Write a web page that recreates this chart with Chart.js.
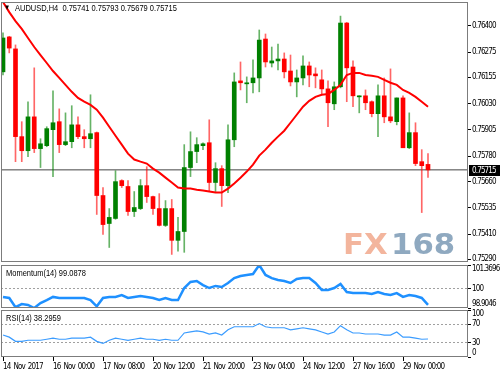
<!DOCTYPE html>
<html>
<head>
<meta charset="utf-8">
<script src="https://cdn.jsdelivr.net/npm/chart.js@4.4.1/dist/chart.umd.min.js"></script>
<style>
  html, body { margin: 0; padding: 0; background: #fff; }
  #wrap { position: relative; width: 500px; height: 375px; overflow: hidden; background: #fff; }
  canvas { position: absolute; left: 0; }
  .txt { position: absolute; font-family: 'Liberation Sans', Arial, sans-serif; font-size: 9.6px; line-height: 10px;
         color: #000; white-space: pre; transform-origin: 0 0; transform: scaleX(0.78); }
  .wm { position: absolute; font-family: 'DejaVu Sans', sans-serif; font-weight: bold; font-size: 29px; line-height: 29px;
        white-space: pre; transform-origin: 0 0; transform: scaleX(1.06); }
</style>
</head>
<body>
<div id="wrap">
  <canvas id="main" width="500" height="264" style="top:0"></canvas>
  <canvas id="mom" width="500" height="45" style="top:264px"></canvas>
  <canvas id="rsi" width="500" height="66" style="top:309px"></canvas>
  <div class="wm" style="left:343px;top:230px;color:#f3b59d">FX</div>
  <div class="wm" style="left:391px;top:230px;color:#8fa9c0">168</div>
  <div class="txt" style="left:4px;top:3px;font-size:8px">▼</div>
  <div class="txt" style="left:15px;top:3px">AUDUSD,H4  0.75741 0.75793 0.75679 0.75715</div>
  <div class="txt" style="left:6px;top:268px">Momentum(14) 99.0878</div>
  <div class="txt" style="left:6px;top:313px">RSI(14) 38.2959</div>
</div>
<script>
// AUDUSD H4 candles, 14 Nov - 29 Nov 2017
const opens = [0.76181, 0.76347, 0.76290, 0.75873, 0.75806, 0.75967, 0.75816, 0.75830, 0.75906, 0.75944,
  0.75835, 0.75849, 0.75929, 0.75873, 0.75863, 0.75892, 0.75593, 0.75460, 0.75484, 0.75664,
  0.75636, 0.75517, 0.75531, 0.75640, 0.75588, 0.75531, 0.75451, 0.75531, 0.75380, 0.75422,
  0.75726, 0.75802, 0.75830, 0.75844, 0.75655, 0.75721, 0.75640, 0.75858, 0.76138, 0.76124,
  0.76129, 0.76152, 0.76337, 0.76223, 0.76233, 0.76242, 0.76185, 0.76133, 0.76152, 0.76209,
  0.76171, 0.76143, 0.76100, 0.76029, 0.76110, 0.76413, 0.76204, 0.76062, 0.76067, 0.76039,
  0.75982, 0.76067, 0.75967, 0.75944, 0.76057, 0.75820, 0.75892, 0.75754, 0.75741];
const highs = [0.76366, 0.76350, 0.76309, 0.75944, 0.76039, 0.76200, 0.75863, 0.75920, 0.76091, 0.76005,
  0.75986, 0.76020, 0.75967, 0.75906, 0.76072, 0.75895, 0.75631, 0.75531, 0.75711, 0.75668,
  0.75664, 0.75612, 0.75669, 0.75730, 0.75590, 0.75602, 0.75569, 0.75574, 0.75489, 0.75835,
  0.75896, 0.75868, 0.75844, 0.75953, 0.75749, 0.75735, 0.75929, 0.76176, 0.76228, 0.76157,
  0.76238, 0.76380, 0.76361, 0.76299, 0.76313, 0.76271, 0.76261, 0.76190, 0.76257, 0.76228,
  0.76200, 0.76190, 0.76138, 0.76133, 0.76446, 0.76416, 0.76233, 0.76067, 0.76095, 0.76043,
  0.76119, 0.76152, 0.76195, 0.76057, 0.76067, 0.75986, 0.75939, 0.75811, 0.75793];
const lows = [0.76166, 0.76271, 0.75754, 0.75754, 0.75778, 0.75797, 0.75726, 0.75825, 0.75683, 0.75797,
  0.75830, 0.75820, 0.75863, 0.75820, 0.75820, 0.75503, 0.75408, 0.75346, 0.75480, 0.75631,
  0.75498, 0.75493, 0.75526, 0.75560, 0.75503, 0.75448, 0.75446, 0.75313, 0.75328, 0.75323,
  0.75683, 0.75749, 0.75811, 0.75612, 0.75612, 0.75541, 0.75607, 0.75825, 0.76095, 0.76034,
  0.76081, 0.76086, 0.76204, 0.76204, 0.76190, 0.76152, 0.76114, 0.76062, 0.76119, 0.76110,
  0.76105, 0.76072, 0.75920, 0.76001, 0.76105, 0.76039, 0.76015, 0.75986, 0.76001, 0.75967,
  0.75873, 0.75939, 0.75939, 0.75929, 0.75820, 0.75816, 0.75735, 0.75512, 0.75679];
const closes = [0.76342, 0.76294, 0.75873, 0.75806, 0.75967, 0.75816, 0.75839, 0.75911, 0.75939, 0.75835,
  0.75849, 0.75929, 0.75873, 0.75863, 0.75887, 0.75593, 0.75455, 0.75489, 0.75659, 0.75640,
  0.75517, 0.75536, 0.75640, 0.75588, 0.75531, 0.75451, 0.75531, 0.75380, 0.75422, 0.75726,
  0.75802, 0.75835, 0.75839, 0.75655, 0.75721, 0.75640, 0.75858, 0.76133, 0.76129, 0.76129,
  0.76152, 0.76332, 0.76228, 0.76233, 0.76242, 0.76181, 0.76133, 0.76152, 0.76209, 0.76166,
  0.76162, 0.76100, 0.76034, 0.76110, 0.76413, 0.76200, 0.76067, 0.76067, 0.76034, 0.75982,
  0.76067, 0.75967, 0.75948, 0.76057, 0.75820, 0.75892, 0.75745, 0.75735, 0.75715];
// red moving average
const movingAvg = [0.76513, 0.76465, 0.76422, 0.76385, 0.76342, 0.76299, 0.76261, 0.76223, 0.76185, 0.76152,
  0.76119, 0.76086, 0.76057, 0.76039, 0.76024, 0.76001, 0.75963, 0.75920, 0.75877, 0.75835,
  0.75792, 0.75764, 0.75754, 0.75745, 0.75721, 0.75702, 0.75678, 0.75655, 0.75631, 0.75626,
  0.75626, 0.75621, 0.75617, 0.75612, 0.75607, 0.75607, 0.75626, 0.75650, 0.75678, 0.75707,
  0.75740, 0.75783, 0.75811, 0.75844, 0.75873, 0.75901, 0.75939, 0.75977, 0.76015, 0.76043,
  0.76062, 0.76072, 0.76076, 0.76095, 0.76119, 0.76166, 0.76176, 0.76176, 0.76166, 0.76162,
  0.76157, 0.76143, 0.76129, 0.76119, 0.76095, 0.76081, 0.76062, 0.76039, 0.76015];
const momentum = [99.54, 99.48, 98.95, 99.13, 99.08, 98.9046, 99.19, 99.36, 99.54, 99.48,
  99.48, 99.48, 99.48, 99.48, 99.36, 99.00, 99.48, 99.54, 99.54, 99.65,
  99.48, 99.54, 99.59, 99.54, 99.48, 99.36, 99.48, 99.36, 99.36, 100.05,
  100.40, 100.45, 100.22, 100.05, 100.17, 100.11, 100.34, 100.62, 100.74, 100.80,
  100.85, 101.3696, 100.80, 100.62, 100.51, 100.45, 100.34, 100.57, 100.62, 100.62,
  100.34, 99.94, 99.94, 100.05, 100.28, 99.82, 99.76, 99.76, 99.76, 99.71,
  99.82, 99.71, 99.65, 99.76, 99.54, 99.65, 99.59, 99.48, 99.0878];
const rsi = [46.7, 42.2, 33.3, 33.3, 35.6, 35.6, 35.6, 37.8, 40.0, 37.8,
  37.8, 40.0, 40.0, 40.0, 42.2, 33.3, 28.9, 35.6, 40.0, 37.8,
  35.6, 37.8, 40.0, 37.8, 37.8, 35.6, 37.8, 35.6, 35.6, 51.1,
  53.3, 55.6, 53.3, 48.9, 51.1, 46.7, 57.8, 64.4, 64.4, 64.4,
  64.4, 71.1, 64.4, 62.2, 62.2, 62.2, 57.8, 60.0, 62.2, 60.0,
  57.8, 53.3, 48.9, 53.3, 66.7, 57.8, 51.1, 51.1, 48.9, 48.9,
  48.9, 46.7, 46.7, 53.3, 42.2, 42.2, 40.0, 37.8, 38.2959];

const priceTicks = [0.76400, 0.76275, 0.76155, 0.76030, 0.75905, 0.75780, 0.75660, 0.75535, 0.75410, 0.75290];
const momTicks = [98.9046, 100, 101.3696];
const momLevels = [100];
const rsiTicks = [0, 30, 70, 100];
const rsiLevels = [30, 70];
const dateTicks = [0, 8, 16, 24, 32, 40, 48, 56, 64];
const dateLabels = ['14 Nov 2017', '16 Nov 00:00', '17 Nov 08:00', '20 Nov 12:00', '21 Nov 20:00',
  '23 Nov 04:00', '24 Nov 12:00', '27 Nov 16:00', '29 Nov 00:00'];

const X_MIN = -0.32, X_MAX = 74.4;
const lastClose = closes[closes.length - 1];
const tickFont = { family: "'DejaVu Sans Condensed','DejaVu Sans',sans-serif", size: 8, lineHeight: 1 };
const TEXT_SPACING = '-0.85px';
const WORD_SPACING = '1.5px';

const idx = closes.map((c, i) => i);
const up = closes.map((c, i) => c >= opens[i]);

function narrowText(ctx) {
    ctx.letterSpacing = TEXT_SPACING;
    ctx.wordSpacing = WORD_SPACING;
}

// frame round each pane, tighter letter spacing for the axis text
const framePlugin = {
    id: 'frame',
    beforeUpdate(chart) { narrowText(chart.ctx); },
    beforeDraw(chart) { narrowText(chart.ctx); },
    afterDraw(chart) {
        const { ctx, chartArea: a } = chart;
        ctx.save();
        ctx.strokeStyle = '#7c7c7c';
        ctx.lineWidth = 1;
        ctx.strokeRect(a.left + 0.5, a.top + 0.5, a.right - a.left - 1, a.bottom - a.top - 1);
        ctx.restore();
    }
};

// black bid tag on the price axis
const bidTagPlugin = {
    id: 'bidTag',
    afterDraw(chart) {
        const { ctx, chartArea: a } = chart;
        const y = Math.round(chart.scales.y.getPixelForValue(lastClose));
        ctx.save();
        ctx.fillStyle = '#000';
        ctx.fillRect(a.right + 1, y - 5, chart.width - a.right - 1, 11);
        ctx.fillStyle = '#fff';
        ctx.font = tickFont.size + 'px ' + tickFont.family;
        ctx.textBaseline = 'middle';
        ctx.fillText(lastClose.toFixed(5), a.right + 4, y + 0.5);
        ctx.restore();
    }
};

function xAxis(show) {
    return {
        type: 'linear', min: X_MIN, max: X_MAX, display: show, position: 'bottom',
        offset: false,
        afterBuildTicks: s => { s.ticks = dateTicks.map(v => ({ value: v })); },
        afterFit: s => { s.height = show ? 18 : 0; s.paddingLeft = 0; s.paddingRight = 0; },
        ticks: { callback: (v, k) => dateLabels[k], align: 'start', autoSkip: false, maxRotation: 0, minRotation: 0,
                 padding: 2, color: '#000', font: tickFont },
        grid: { offset: false, drawOnChartArea: false, drawTicks: true, tickLength: 4, tickColor: '#000' },
        border: { display: false }
    };
}

function yAxis(min, max, ticks, fmt, levels) {
    return {
        position: 'right', min: min, max: max,
        afterBuildTicks: s => { s.ticks = ticks.map(v => ({ value: v })); },
        afterFit: s => { s.width = 32; s.paddingTop = 0; s.paddingBottom = 0; },
        ticks: { callback: fmt, color: '#000', font: tickFont, padding: 1, autoSkip: false },
        grid: {
            drawOnChartArea: true, drawTicks: true, tickLength: 3, tickColor: '#000',
            color: c => (c.tick && levels.includes(c.tick.value)) ? '#a0a0a0' : 'rgba(0,0,0,0)'
        },
        border: { display: false, dash: [2, 2] }
    };
}

const baseOpts = {
    responsive: false,
    animation: false,
    events: [],
    plugins: { legend: { display: false }, tooltip: { enabled: false } }
};

// main price pane
const mainChart = new Chart(document.getElementById('main'), {
    type: 'bar',
    data: {
        datasets: [
            {
                type: 'line', order: 0,
                data: idx.map(i => ({ x: i, y: movingAvg[i] })),
                borderColor: '#ff0000', borderWidth: 2, pointRadius: 0, tension: 0
            },
            {
                order: 1, grouped: false, barThickness: 4, minBarLength: 1,
                data: idx.map(i => ({ x: i, y: [opens[i], closes[i]] })),
                backgroundColor: up.map(u => u ? '#008000' : '#ff0000')
            },
            {
                order: 2, grouped: false, barThickness: 1,
                data: idx.map(i => ({ x: i, y: [lows[i], highs[i]] })),
                backgroundColor: up.map(u => u ? 'rgba(0,128,0,0.6)' : 'rgba(255,0,0,0.6)')
            },
            {
                type: 'line', order: 3,
                data: [{ x: X_MIN, y: lastClose }, { x: X_MAX, y: lastClose }],
                borderColor: '#444', borderWidth: 1, pointRadius: 0
            }
        ]
    },
    options: Object.assign({}, baseOpts, {
        layout: { autoPadding: false, padding: { left: 1, right: 0, top: 2, bottom: 2 } },
        scales: {
            x: xAxis(false),
            y: yAxis(0.75277, 0.76513, priceTicks, v => v.toFixed(5), [])
        }
    }),
    plugins: [framePlugin, bidTagPlugin]
});

// momentum pane
const momChart = new Chart(document.getElementById('mom'), {
    type: 'line',
    data: {
        datasets: [{
            data: idx.map(i => ({ x: i, y: momentum[i] })),
            borderColor: '#1e90ff', borderWidth: 2.5, pointRadius: 0, tension: 0
        }]
    },
    options: Object.assign({}, baseOpts, {
        layout: { autoPadding: false, padding: { left: 1, right: 0, top: 1, bottom: 1 } },
        scales: {
            x: xAxis(false),
            y: yAxis(momTicks[0], momTicks[2], momTicks, (v, k) =>
                k === 2 ? ['', v.toFixed(4)] : k === 0 ? [v.toFixed(4), ''] : String(v), momLevels)
        }
    }),
    plugins: [framePlugin]
});

// RSI pane with the time axis
const rsiChart = new Chart(document.getElementById('rsi'), {
    type: 'line',
    data: {
        datasets: [{
            data: idx.map(i => ({ x: i, y: rsi[i] })),
            borderColor: '#3b9cff', borderWidth: 1.2, pointRadius: 0, tension: 0
        }]
    },
    options: Object.assign({}, baseOpts, {
        layout: { autoPadding: false, padding: { left: 1, right: 0, top: 1, bottom: 0 } },
        scales: {
            x: xAxis(true),
            y: yAxis(0, 100, rsiTicks, (v, k) =>
                k === 3 ? ['', String(v)] : k === 0 ? [String(v), ''] : String(v), rsiLevels)
        }
    }),
    plugins: [framePlugin]
});
</script>
</body>
</html>
